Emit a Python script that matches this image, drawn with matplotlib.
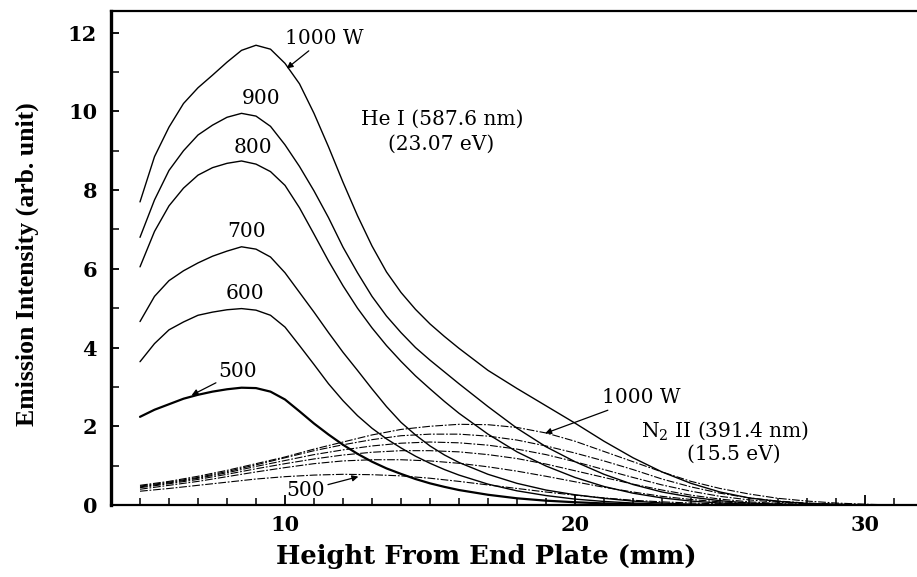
import matplotlib
matplotlib.use("Agg")
import matplotlib.pyplot as plt
from matplotlib.ticker import MultipleLocator, FixedLocator

# Height above the end plate (mm)
he_x = [5, 5.5, 6, 6.5, 7, 7.5, 8, 8.5, 9, 9.5, 10, 10.5, 11, 11.5, 12, 12.5, 13, 13.5,
        14, 14.5, 15, 15.5, 16, 17, 18, 19, 20, 21, 22, 23, 24, 25, 26, 27, 28, 29, 30]

# He I (587.6 nm) emission intensity for each RF power
he_1000 = [7.70, 8.85, 9.60, 10.20, 10.60, 10.92, 11.25, 11.55, 11.68, 11.58, 11.22, 10.70,
           9.95, 9.10, 8.20, 7.35, 6.58, 5.92, 5.40, 4.97, 4.60, 4.28, 3.98,
           3.42, 2.96, 2.52, 2.08, 1.62, 1.20, 0.84, 0.55, 0.33, 0.18, 0.09, 0.04, 0.02, 0.00]
he_900 = [6.80, 7.75, 8.50, 9.00, 9.40, 9.65, 9.85, 9.95, 9.88, 9.62, 9.15, 8.60,
          7.98, 7.30, 6.55, 5.90, 5.30, 4.80, 4.38, 4.00, 3.68, 3.38, 3.08,
          2.50, 1.95, 1.48, 1.10, 0.78, 0.52, 0.33, 0.20, 0.11, 0.05, 0.02, 0.00, 0.00, 0.00]
he_800 = [6.05, 6.95, 7.60, 8.05, 8.38, 8.57, 8.68, 8.74, 8.66, 8.47, 8.12, 7.55,
          6.88, 6.20, 5.57, 5.00, 4.50, 4.05, 3.65, 3.28, 2.95, 2.63, 2.33,
          1.80, 1.35, 0.99, 0.70, 0.47, 0.30, 0.18, 0.10, 0.05, 0.02, 0.00, 0.00, 0.00, 0.00]
he_700 = [4.66, 5.30, 5.70, 5.95, 6.15, 6.32, 6.45, 6.56, 6.50, 6.30, 5.90, 5.40,
          4.90, 4.38, 3.88, 3.42, 2.95, 2.50, 2.10, 1.78, 1.50, 1.27, 1.08,
          0.78, 0.55, 0.38, 0.26, 0.17, 0.10, 0.05, 0.02, 0.00, 0.00, 0.00, 0.00, 0.00, 0.00]
he_600 = [3.64, 4.10, 4.45, 4.65, 4.82, 4.90, 4.96, 4.99, 4.95, 4.82, 4.52, 4.05,
          3.57, 3.08, 2.65, 2.27, 1.95, 1.68, 1.45, 1.24, 1.06, 0.90, 0.76,
          0.53, 0.36, 0.24, 0.15, 0.09, 0.05, 0.02, 0.00, 0.00, 0.00, 0.00, 0.00, 0.00, 0.00]
he_500 = [2.24, 2.42, 2.56, 2.70, 2.80, 2.88, 2.94, 2.98, 2.97, 2.88, 2.68, 2.38,
          2.07, 1.79, 1.53, 1.30, 1.10, 0.93, 0.79, 0.66, 0.55, 0.46, 0.38,
          0.26, 0.17, 0.11, 0.07, 0.04, 0.02, 0.00, 0.00, 0.00, 0.00, 0.00, 0.00, 0.00, 0.00]

n2_x = [5, 6, 7, 8, 9, 10, 11, 12, 13, 14, 15, 16, 17, 18, 19, 20, 21, 22, 23, 24, 25,
        26, 27, 28, 29, 30, 31]

# N2+ (391.4 nm) emission intensity for each RF power
n2_1000 = [0.50, 0.60, 0.73, 0.88, 1.05, 1.22, 1.42, 1.60, 1.78, 1.92, 2.00, 2.05, 2.04, 1.97,
           1.83, 1.62, 1.36, 1.10, 0.84, 0.60, 0.42, 0.28, 0.17, 0.10, 0.05, 0.02, 0.00]
n2_900 = [0.48, 0.58, 0.70, 0.85, 1.02, 1.20, 1.38, 1.53, 1.66, 1.76, 1.80, 1.80, 1.75, 1.65,
          1.50, 1.32, 1.12, 0.90, 0.66, 0.46, 0.30, 0.18, 0.10, 0.05, 0.02, 0.00, 0.00]
n2_800 = [0.46, 0.56, 0.68, 0.82, 0.98, 1.13, 1.28, 1.40, 1.50, 1.57, 1.60, 1.58, 1.52, 1.42,
          1.28, 1.10, 0.90, 0.70, 0.51, 0.35, 0.22, 0.13, 0.07, 0.03, 0.01, 0.00, 0.00]
n2_700 = [0.44, 0.54, 0.65, 0.78, 0.92, 1.05, 1.17, 1.27, 1.34, 1.38, 1.38, 1.35, 1.28, 1.18,
          1.04, 0.87, 0.70, 0.53, 0.38, 0.25, 0.15, 0.08, 0.04, 0.01, 0.00, 0.00, 0.00]
n2_600 = [0.40, 0.50, 0.60, 0.72, 0.84, 0.95, 1.05, 1.12, 1.15, 1.15, 1.12, 1.06, 0.97, 0.86,
          0.73, 0.59, 0.45, 0.33, 0.22, 0.14, 0.08, 0.04, 0.02, 0.00, 0.00, 0.00, 0.00]
n2_500 = [0.35, 0.42, 0.50, 0.58, 0.66, 0.72, 0.76, 0.78, 0.77, 0.74, 0.68, 0.60, 0.51, 0.42,
          0.33, 0.25, 0.18, 0.12, 0.08, 0.05, 0.03, 0.01, 0.00, 0.00, 0.00, 0.00, 0.00]

he_series = [he_500, he_600, he_700, he_800, he_900, he_1000]
n2_series = [n2_500, n2_600, n2_700, n2_800, n2_900, n2_1000]

SERIF = "DejaVu Serif"
plt.rcParams["mathtext.fontset"] = "dejavuserif"

fig = plt.figure(figsize=(9.17, 5.77), dpi=100)
ax = fig.add_axes([111 / 917, 72 / 577, 812 / 917, 494 / 577])

# nitrogen ion band: thin dash-dot curves
for ys in n2_series:
    ax.plot(n2_x, ys, color="black", lw=0.8, dashes=(7, 1.6, 1.6, 1.6))

# helium line: solid curves, lowest power drawn heavier
for i, ys in enumerate(he_series):
    ax.plot(he_x, ys, color="black", lw=1.6 if i == 0 else 1.0,
            solid_joinstyle="round", solid_capstyle="round")

ax.set_xlim(4, 32)
ax.set_ylim(0, 12.55)

ax.xaxis.set_major_locator(FixedLocator([10, 20, 30]))
ax.xaxis.set_minor_locator(MultipleLocator(1))
ax.yaxis.set_major_locator(MultipleLocator(2))
ax.yaxis.set_minor_locator(MultipleLocator(1))

ax.tick_params(axis="x", which="major", direction="in", length=7.5, width=1.3, pad=7)
ax.tick_params(axis="x", which="minor", direction="in", length=5, width=1.1)
ax.tick_params(axis="y", which="major", direction="in", length=6, width=1.3, pad=10)
ax.tick_params(axis="y", which="minor", direction="in", length=6, width=1.1)

for lab in ax.get_xticklabels() + ax.get_yticklabels():
    lab.set_fontfamily(SERIF)
    lab.set_fontweight("bold")
    lab.set_fontsize(15)

ax.spines["right"].set_visible(False)
ax.spines["left"].set_linewidth(2.4)
ax.spines["bottom"].set_linewidth(1.6)
ax.spines["top"].set_linewidth(1.6)

ax.set_xlabel("Height From End Plate (mm)", fontfamily=SERIF, fontweight="bold", fontsize=18.5)
ax.xaxis.set_label_coords(0.462, -0.105)
ax.xaxis.label.set_va("center")

ax.set_ylabel("Emission Intensity (arb. unit)", fontfamily="Liberation Serif",
              fontweight="bold", fontsize=18.5)
ax.yaxis.set_label_coords(-0.1034, 0.488)
ax.yaxis.label.set_va("center")

txt = dict(fontfamily=SERIF, fontsize=14.5, color="black", ha="center", va="center")
arrow = dict(arrowstyle="-|>", color="black", lw=0.9, mutation_scale=9, shrinkA=0, shrinkB=0)

# He I power labels
ax.annotate("1000 W", xy=(10.06, 11.09), xytext=(11.35, 11.85), arrowprops=arrow, **txt)
ax.text(9.17, 10.33, "900", **txt)
ax.text(8.91, 9.09, "800", **txt)
ax.text(8.66, 6.96, "700", **txt)
ax.text(8.62, 5.37, "600", **txt)
ax.annotate("500", xy=(6.78, 2.79), xytext=(8.38, 3.39), arrowprops=arrow, **txt)
ax.text(15.41, 9.81, "He I (587.6 nm)", **txt)
ax.text(15.38, 9.16, "(23.07 eV)", **txt)

# N2+ power labels
ax.annotate("1000 W", xy=(18.97, 1.82), xytext=(22.28, 2.72), arrowprops=arrow, **txt)
ax.text(25.17, 1.90, "N$_2$ II (391.4 nm)", **txt)
ax.text(25.48, 1.28, "(15.5 eV)", **txt)
ax.annotate("500", xy=(12.53, 0.72), xytext=(10.72, 0.37), arrowprops=arrow, **txt)

fig.savefig("out.png", dpi=100)
